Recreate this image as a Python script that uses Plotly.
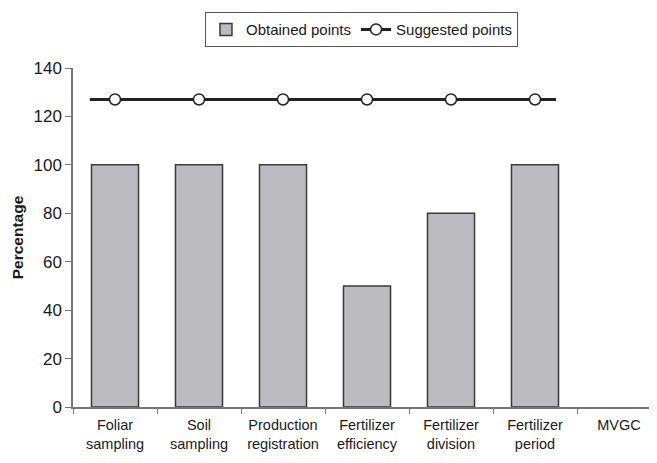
import plotly.graph_objects as go

categories = ["Foliar<br>sampling", "Soil<br>sampling", "Production<br>registration",
              "Fertilizer<br>efficiency", "Fertilizer<br>division", "Fertilizer<br>period", "MVGC"]
obtained = [100, 100, 100, 50, 80, 100, None]
suggested_cats = categories[:6]
suggested = [127, 127, 127, 127, 127, 127]
y_ticks = [0, 20, 40, 60, 80, 100, 120, 140]

FONT = "Liberation Sans, Arial, sans-serif"

fig = go.Figure()
fig.add_trace(go.Bar(
    x=categories, y=obtained, name="Obtained points",
    marker=dict(color="#bcbcc0", line=dict(color="#3a3a3a", width=1.5)),
))
fig.add_trace(go.Scatter(
    x=suggested_cats, y=suggested, name="Suggested points", mode="lines+markers",
    line=dict(color="#222222", width=3),
    marker=dict(symbol="circle", size=11, color="white", line=dict(color="#222222", width=1.5)),
))
# line extends slightly beyond first/last marker
PAD_L, PAD_R = 0.3, 0.25
fig.add_shape(type="line", xref="x", yref="y",
              x0=0 - PAD_L, x1=len(suggested_cats) - 1 + PAD_R,
              y0=suggested[0], y1=suggested[-1],
              line=dict(color="#222222", width=3), layer="below")

fig.update_layout(
    width=657, height=463,
    margin=dict(l=65, r=4, t=60, b=64, autoexpand=False),
    paper_bgcolor="white", plot_bgcolor="white",
    font=dict(family=FONT, size=15, color="#1a1a1a"),
    bargap=0.44,
    showlegend=True,
    legend=dict(orientation="h", xref="container", yref="container",
                x=0.538, y=0.991, xanchor="center", yanchor="top",
                bordercolor="#555555", borderwidth=1, bgcolor="white",
                font=dict(size=15), tracegroupgap=0, itemwidth=30),
    xaxis=dict(type="category", range=[-0.5, 6.5], tickson="boundaries",
               ticks="outside", ticklen=5, tickcolor="#777777", tickangle=0,
               showline=True, linecolor="#777777", linewidth=1.5, automargin=False,
               showgrid=False, tickfont=dict(size=14.5), ticklabelstandoff=4),
    yaxis=dict(range=[0, 140], tickvals=y_ticks, ticks="outside", ticklen=6,
               tickcolor="#777777", showline=True, linecolor="#777777", linewidth=1.5,
               showgrid=False, zeroline=False, tickfont=dict(size=17), automargin=False,
               title=dict(text="<b>Percentage</b>", font=dict(size=15.5), standoff=6)),
)

fig.write_html("out.html")
